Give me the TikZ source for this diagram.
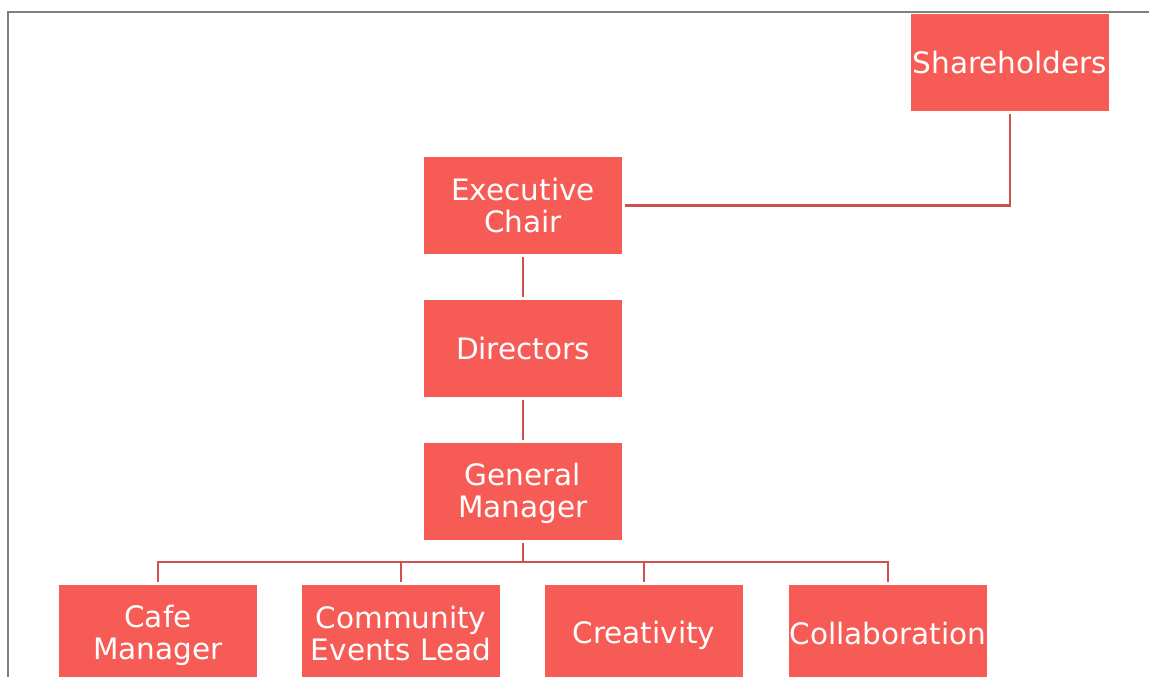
\documentclass[tikz,border=0pt]{standalone}
\usepackage{fontspec}
\setmainfont{DejaVu Sans}
\definecolor{boxfill}{RGB}{247,91,85}
\definecolor{linkcol}{RGB}{208,80,80}
\definecolor{framecol}{RGB}{128,128,128}
% strut that centres capital letters on the line
\newcommand{\capstrut}{\rule[-4.5pt]{0pt}{30.5pt}}
\begin{document}
\begin{tikzpicture}[x=1pt,y=-1pt,
  orgbox/.style={fill=boxfill, draw=none, minimum width=198pt, minimum height=97pt,
    inner sep=0pt, align=center, text=white, font=\fontsize{29.5}{32.5}\selectfont},
  link/.style={draw=linkcol, line width=2.6pt, shorten <=3pt, shorten >=3pt}]
\useasboundingbox (0,0) rectangle (1149,677);
\clip (0,0) rectangle (1149,677);
% page frame
\draw[framecol, line width=1.3pt] (8,680) -- (8,12) -- (1152,12);
% boxes
\node[orgbox] (share) at (1010,62.5) {\capstrut Shareholders};
\node[orgbox] (chair) at (523,205.5) {\capstrut Executive\\\capstrut Chair};
\node[orgbox] (dirs) at (523,348.5) {\capstrut Directors};
\node[orgbox] (gm) at (523,491.5) {\capstrut General\\\capstrut Manager};
\node[orgbox] (cafe) at (158,633.5) {\capstrut Cafe\\\capstrut Manager};
\node[orgbox] (comm) at (401,633.5) {\capstrut Community\\\capstrut Events Lead};
\node[orgbox] (crea) at (644,633.5) {\capstrut Creativity};
\node[orgbox] (coll) at (888,633.5) {\capstrut Collaboration};
% connectors
\draw[link] (share.south) |- (chair.east);
\draw[link] (chair.south) -- (dirs.north);
\draw[link] (dirs.south) -- (gm.north);
\coordinate (bus) at (523,562);
\draw[link, shorten >=0pt] (gm.south) -- (bus);
\foreach \t in {cafe,comm,crea,coll}
  \draw[link, shorten <=0pt] (bus) -| (\t.north);
\end{tikzpicture}
\end{document}
